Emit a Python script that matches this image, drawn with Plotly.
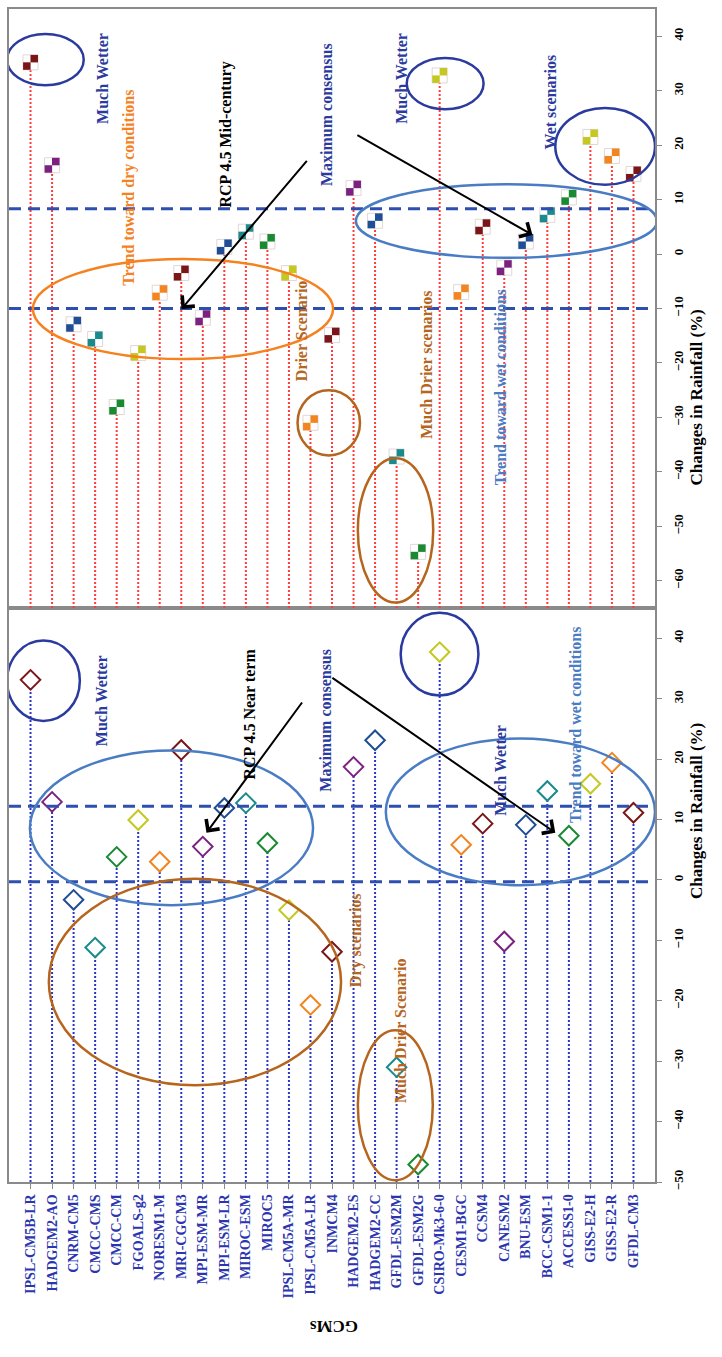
import numpy as np
import plotly.graph_objects as go

# GCMs in plotting order
gcms = ["IPSL-CM5B-LR", "HADGEM2-AO", "CNRM-CM5", "CMCC-CMS", "CMCC-CM", "FGOALS-g2",
        "NORESM1-M", "MRI-CGCM3", "MPI-ESM-MR", "MPI-ESM-LR", "MIROC-ESM", "MIROC5",
        "IPSL-CM5A-MR", "IPSL-CM5A-LR", "INMCM4", "HADGEM2-ES", "HADGEM2-CC",
        "GFDL-ESM2M", "GFDL-ESM2G", "CSIRO-Mk3-6-0", "CESM1-BGC", "CCSM4", "CANESM2",
        "BNU-ESM", "BCC-CSM1-1", "ACCESS1-0", "GISS-E2-H", "GISS-E2-R", "GFDL-CM3"]

# Change in rainfall (%) under RCP 4.5, near term
near_term = [33.1, 12.9, -3.3, -11.2, 3.8, 9.9, 3.0, 21.5, 5.5, 11.9, 12.7, 6.1, -5.0,
             -20.7, -11.9, 18.7, 23.1, -31.0, -47.1, 37.7, 5.8, 9.3, -10.2, 9.1, 14.7,
             7.3, 15.9, 19.4, 11.1]

# Change in rainfall (%) under RCP 4.5, mid-century
mid_century = [35.2, 16.3, -12.9, -15.6, -28.1, -18.2, -7.1, -3.5, -11.7, 1.3, 4.1, 2.3,
               -3.5, -31.0, -14.9, 12.1, 6.1, -37.2, -54.7, 32.8, -7.0, 5.0, -2.5, 2.3,
               7.2, 10.4, 21.5, 18.0, 14.7]

# consensus band limits (%)
near_band = [12.2, -0.3]
mid_band = [8.3, -10.0]

palette = ["#7a1518", "#7d2181", "#1f4e96", "#1a8a8c", "#1a8a32", "#c4c820", "#f2851f"]
colors = [palette[i % len(palette)] for i in range(len(gcms))]

SERIF = "Liberation Serif"
DARK_BLUE = "#2b3a9e"
LIGHT_BLUE = "#4a7cc4"
ORANGE = "#f5821f"
BROWN = "#b5651d"
AXIS_GREY = "#8a8a8a"

xpos = np.arange(1, len(gcms) + 1)
NEAR_MIN, NEAR_MAX = -50, 45
MID_MIN, MID_MAX = -65, 45
PX_X = 648 / 30.0                          # pixels per category
PX_Y_NEAR = 575 / (NEAR_MAX - NEAR_MIN)    # pixels per % (bottom panel)
PX_Y_MID = 599 / (MID_MAX - MID_MIN)       # pixels per % (top panel)

fig = go.Figure()


def stems(vals, base, gap=0.0):
    xs, ys = [], []
    for xi, v in zip(xpos, vals):
        xs += [xi, xi, None]
        ys += [base, v - gap, None]
    return xs, ys


# ---- near term panel (bottom) ----
sx, sy = stems(near_term, NEAR_MIN, gap=9.5 / PX_Y_NEAR)
fig.add_trace(go.Scatter(x=sx, y=sy, mode="lines", xaxis="x", yaxis="y",
                         line=dict(color="#2a35c8", width=2, dash="2px,2px"),
                         hoverinfo="skip"))
fig.add_trace(go.Scatter(x=xpos, y=near_term, mode="markers", xaxis="x", yaxis="y",
                         marker=dict(symbol="diamond-open", size=15, color=colors,
                                     line=dict(width=2, color=colors)),
                         text=gcms))

# ---- mid-century panel (top) ----
sx, sy = stems(mid_century, MID_MIN)
fig.add_trace(go.Scatter(x=sx, y=sy, mode="lines", xaxis="x2", yaxis="y2",
                         line=dict(color="#ff3b3b", width=2, dash="2px,2px"),
                         hoverinfo="skip"))

# checkered square markers: white tile with two coloured quarters
dx = 3.7 / PX_X
dy = 3.7 / PX_Y_MID
mid = np.array(mid_century)
fig.add_trace(go.Scatter(x=xpos, y=mid, mode="markers", xaxis="x2", yaxis="y2",
                         marker=dict(symbol="square", size=15, color="white",
                                     line=dict(width=1, color="#e2d6d6")),
                         hoverinfo="skip"))
fig.add_trace(go.Scatter(x=xpos + dx, y=mid + dy, mode="markers", xaxis="x2", yaxis="y2",
                         marker=dict(symbol="square", size=7.5, color=colors,
                                     line=dict(width=0)), hoverinfo="skip"))
fig.add_trace(go.Scatter(x=xpos - dx, y=mid - dy, mode="markers", xaxis="x2", yaxis="y2",
                         marker=dict(symbol="square", size=7.5, color=colors,
                                     line=dict(width=0)), text=gcms))

shapes = []

# consensus band lines
for v in near_band:
    shapes.append(dict(type="line", xref="x", yref="y", x0=0, x1=30, y0=v, y1=v,
                       line=dict(color="#2f4fb0", width=3, dash="12px,7px")))
for v in mid_band:
    shapes.append(dict(type="line", xref="x2", yref="y2", x0=0, x1=30, y0=v, y1=v,
                       line=dict(color="#2f4fb0", width=3, dash="12px,7px")))


def ellipse(axis, x0, x1, y0, y1, color):
    xr, yr = ("x", "y") if axis == 1 else ("x2", "y2")
    shapes.append(dict(type="circle", xref=xr, yref=yr, x0=x0, x1=x1, y0=y0, y1=y1,
                       line=dict(color=color, width=2.5)))


# near term groupings
ellipse(1, -0.09, 3.29, 26.3, 39.6, DARK_BLUE)
ellipse(1, 0.97, 14.12, -4.2, 21.4, LIGHT_BLUE)
ellipse(1, 1.85, 15.42, -34.0, 0.2, BROWN)
ellipse(1, 16.2, 19.68, -49.7, -24.9, BROWN)
ellipse(1, 18.19, 21.8, 30.5, 44.2, DARK_BLUE)
ellipse(1, 17.5, 30.0, -0.9, 23.4, LIGHT_BLUE)

# mid-century groupings
ellipse(2, -0.09, 3.47, 31.0, 40.4, DARK_BLUE)
ellipse(2, 18.47, 22.04, 26.6, 36.0, DARK_BLUE)
ellipse(2, 25.37, 30.0, 12.7, 26.8, DARK_BLUE)
ellipse(2, 16.11, 30.09, -0.7, 12.8, LIGHT_BLUE)
ellipse(2, 1.11, 15.05, -19.3, -0.9, ORANGE)
ellipse(2, 13.4, 16.3, -37.0, -25.0, BROWN)
ellipse(2, 16.2, 19.7, -64.0, -37.5, BROWN)

annotations = []


def label(axis, x, y, text, color, size=16):
    xr, yr = ("x", "y") if axis == 1 else ("x2", "y2")
    annotations.append(dict(xref=xr, yref=yr, x=x, y=y, text=text, showarrow=False,
                            textangle=-90,
                            font=dict(family=SERIF, size=size, color=color, weight="bold")))


def arrow(axis, tail, head):
    xr, yr = ("x", "y") if axis == 1 else ("x2", "y2")
    annotations.append(dict(xref=xr, yref=yr, axref=xr, ayref=yr, x=head[0], y=head[1],
                            ax=tail[0], ay=tail[1], text="", showarrow=True,
                            arrowhead=4, arrowsize=1.6, arrowwidth=2, arrowcolor="black"))


# near term labels
label(1, 4.31, 29.7, "Much Wetter", DARK_BLUE)
label(1, 11.16, 27.4, "RCP 4.5 Near term", "black")
label(1, 14.72, 26.5, "Maximum consensus", DARK_BLUE)
label(1, 16.11, -10.0, "Dry scenarios", BROWN)
label(1, 18.19, -24.9, "Much Drier Scenario", BROWN)
label(1, 22.82, 18.1, "Much Wetter", DARK_BLUE)
label(1, 26.30, 25.7, "Trend toward wet conditions", LIGHT_BLUE)
arrow(1, (13.66, 29.6), (9.17, 7.8))
arrow(1, (14.95, 33.6), (25.37, 7.8))

# mid-century labels
label(2, 4.31, 32.3, "Much Wetter", DARK_BLUE)
label(2, 5.56, 12.1, "Trend toward dry conditions", ORANGE)
label(2, 10.09, 22.0, "RCP 4.5 Mid-century", "black")
label(2, 14.72, 25.7, "Maximum consensus", DARK_BLUE)
label(2, 18.19, 32.3, "Much Wetter", DARK_BLUE)
label(2, 25.14, 27.9, "Wet scenarios", DARK_BLUE)
label(2, 13.56, -14.0, "Drier Scenario", BROWN)
label(2, 19.35, -20.4, "Much Drier scenarios", BROWN)
label(2, 22.82, -24.4, "Trend toward wet conditions", LIGHT_BLUE)
arrow(2, (13.89, 17.4), (8.01, -10.1))
arrow(2, (16.11, 22.0), (24.31, 3.5))

# axis titles
for ypos in (0.24, 0.746):
    annotations.append(dict(xref="paper", yref="paper", x=1.082, y=ypos,
                            text="Changes in Rainfall (%)", showarrow=False, textangle=-90,
                            font=dict(family=SERIF, size=17, color="black", weight="bold")))
annotations.append(dict(xref="paper", yref="paper", x=0.5015, y=-0.1336, text="GCMs",
                        showarrow=False, textangle=180,
                        font=dict(family=SERIF, size=17, color="black", weight="bold")))

axis_common = dict(showline=True, linecolor=AXIS_GREY, linewidth=1.5, mirror=True,
                   showgrid=False, zeroline=False)
tickfont = dict(family=SERIF, size=13, color="black", weight="bold")

fig.update_layout(
    width=722, height=1357,
    margin=dict(l=7, r=67, t=7, b=175),
    paper_bgcolor="white", plot_bgcolor="white",
    showlegend=False,
    shapes=shapes, annotations=annotations,
    xaxis=dict(domain=[0, 1], anchor="y", range=[0, 30], tickmode="array",
               tickvals=xpos, ticktext=gcms, tickangle=-90, ticks="outside", ticklen=5,
               tickcolor=AXIS_GREY,
               tickfont=dict(family=SERIF, size=14, color="#2b35b0", weight="bold"),
               **axis_common),
    yaxis=dict(domain=[0, 0.4894], anchor="x", side="right", range=[NEAR_MIN, NEAR_MAX],
               tickvals=list(range(-50, 41, 10)), tickangle=-90, ticks="outside",
               ticklen=5, tickcolor=AXIS_GREY, tickfont=tickfont, ticklabelstandoff=6,
               **axis_common),
    xaxis2=dict(domain=[0, 1], anchor="y2", range=[0, 30], matches="x",
                showticklabels=False, ticks="", **axis_common),
    yaxis2=dict(domain=[0.4894, 1], anchor="x2", side="right", range=[MID_MIN, MID_MAX],
                tickvals=list(range(-60, 41, 10)), tickangle=-90, ticks="outside",
                ticklen=5, tickcolor=AXIS_GREY, tickfont=tickfont, ticklabelstandoff=6,
                **axis_common),
)

fig.write_html("out.html")
